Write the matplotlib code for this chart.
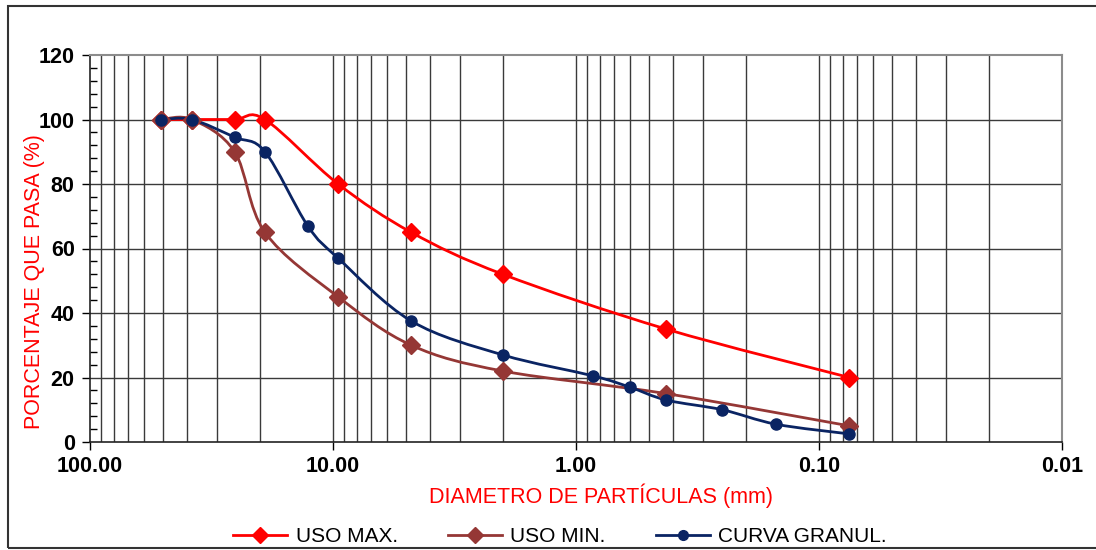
import numpy as np
import matplotlib
matplotlib.use('Agg')
from matplotlib import pyplot as plt
from matplotlib.path import Path
from matplotlib.patches import PathPatch, Rectangle
from matplotlib.lines import Line2D

plt.rcParams['font.family'] = ['Liberation Sans', 'DejaVu Sans']

# tamices (mm) y porcentajes que pasan
x_max = [50.8, 38.1, 25.4, 19.05, 9.525, 4.76, 2.00, 0.425, 0.075]
y_max = [100, 100, 100, 100, 80, 65, 52, 35, 20]

x_min = [50.8, 38.1, 25.4, 19.05, 9.525, 4.76, 2.00, 0.425, 0.075]
y_min = [100, 100, 90, 65, 45, 30, 22, 15, 5]

x_gr = [50.8, 38.1, 25.4, 19.05, 12.7, 9.525, 4.76, 2.00, 0.85, 0.60, 0.425, 0.25, 0.15, 0.075]
y_gr = [100, 100, 94.5, 90, 67, 57, 37.5, 27, 20.5, 17, 13, 10, 5.5, 2.5]

xticks = [100, 10, 1, 0.1, 0.01]
xlabels = ['100.00', '10.00', '1.00', '0.10', '0.01']


def smooth_path(xs, ys):
    # curva suavizada tipo excel (catmull-rom -> bezier) en espacio log
    u = np.log10(xs)
    v = np.array(ys, dtype=float)
    n = len(u)
    verts = [(xs[0], v[0])]
    codes = [Path.MOVETO]
    for i in range(n - 1):
        i0 = max(i - 1, 0)
        i3 = min(i + 2, n - 1)
        c1u = u[i] + (u[i + 1] - u[i0]) / 6
        c1v = v[i] + (v[i + 1] - v[i0]) / 6
        c2u = u[i + 1] - (u[i3] - u[i]) / 6
        c2v = v[i + 1] - (v[i3] - v[i]) / 6
        verts += [(10 ** c1u, c1v), (10 ** c2u, c2v), (xs[i + 1], v[i + 1])]
        codes += [Path.CURVE4] * 3
    return Path(verts, codes)


fig = plt.figure(figsize=(10.96, 5.5), dpi=100)
fig.patches.append(Rectangle((8 / 1096, 2 / 550), 1.2, 542 / 550, transform=fig.transFigure,
                             fill=False, ec='#333333', lw=1.5))
ax = fig.add_axes([90 / 1096, 108 / 550, 972 / 1096, 387 / 550])
ax.set_xscale('log')
ax.set_xlim(100, 0.01)
ax.set_ylim(0, 120)

# rejilla
for d in [10, 1, 0.1, 0.01]:
    for k in range(1, 10):
        ax.axvline(d * k, color='#3a3a3a', lw=1.0, zorder=1)
for yv in range(20, 120, 20):
    ax.axhline(yv, color='#3a3a3a', lw=1.0, zorder=1)

series = [
    (x_max, y_max, '#FF0000', 'D', 9, 'USO MAX.'),
    (x_min, y_min, '#953735', 'D', 9, 'USO MIN.'),
    (x_gr, y_gr, '#0A2463', 'o', 8, 'CURVA GRANUL.'),
]
handles = []
for xs, ys, c, m, ms, lab in series:
    ax.add_patch(PathPatch(smooth_path(xs, ys), fill=False, ec=c, lw=2.0, zorder=3))
    ax.plot(xs, ys, ls='none', marker=m, ms=ms, color=c, zorder=4)
    handles.append(Line2D([], [], color=c, lw=2.0, marker=m, ms=ms - 1, label=lab))

ax.set_xticks(xticks)
ax.set_xticklabels(xlabels)
ax.xaxis.set_minor_locator(matplotlib.ticker.NullLocator())
ax.set_yticks(range(0, 121, 20))
ax.set_yticks(range(0, 121, 4), minor=True)
ax.tick_params(axis='both', which='major', labelsize=15.5, length=6, width=1, direction='out')
ax.tick_params(axis='y', which='minor', length=5, width=1, direction='in')
ax.tick_params(axis='x', pad=4)
ax.tick_params(axis='y', pad=5)
for t in ax.get_xticklabels() + ax.get_yticklabels():
    t.set_fontweight('bold')

for s in ['top', 'right']:
    ax.spines[s].set_color('#8c8c8c')
    ax.spines[s].set_linewidth(1.5)
for s in ['left', 'bottom']:
    ax.spines[s].set_color('#222222')
    ax.spines[s].set_linewidth(1.2)

fig.text(601 / 1096, 1 - 496 / 550, 'DIAMETRO DE PARTÍCULAS (mm)', color='#FF0000',
         fontsize=15.5, ha='center', va='center')
fig.text(35 / 1096, 1 - 282 / 550, 'PORCENTAJE QUE PASA (%)', color='#FF0000',
         fontsize=15.5, ha='center', va='center', rotation=90)

fig.legend(handles=handles, loc='center', bbox_to_anchor=(560 / 1096, 1 - 537 / 550), ncol=3,
           frameon=False, handlelength=2.6, columnspacing=2.4, handletextpad=0.4,
           prop={'family': ['Liberation Sans Narrow', 'Liberation Sans'], 'size': 15})

fig.savefig('out.png', dpi=100)
